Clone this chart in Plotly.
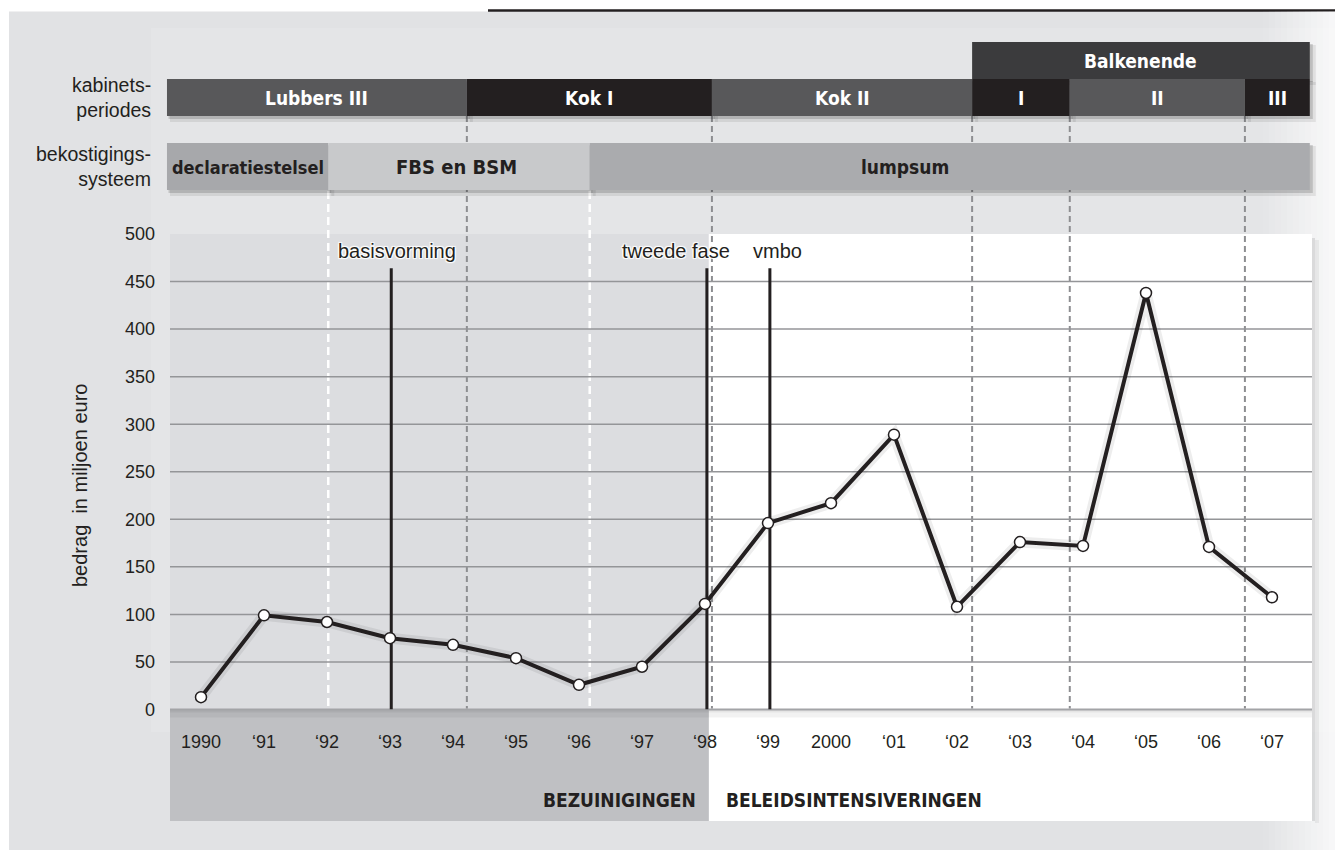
import plotly.graph_objects as go

# ---------------- data ----------------
years = list(range(1990, 2008))
values = [13, 99, 92, 75, 68, 54, 26, 45, 111, 196, 217, 289, 108, 176, 172, 438, 171, 118]
x_tick_labels = ["1990", "‘91", "‘92", "‘93", "‘94", "‘95", "‘96", "‘97", "‘98", "‘99",
                 "2000", "‘01", "‘02", "‘03", "‘04", "‘05", "‘06", "‘07"]
y_ticks = [0, 50, 100, 150, 200, 250, 300, 350, 400, 450, 500]
grid_vals = [50, 100, 150, 200, 250, 300, 350, 400, 450]

cabinet_names = ["Lubbers III", "Kok I", "Kok II", "I", "II", "III"]
cabinet_bounds = [1989.46, 1994.22, 1998.11, 2002.24, 2003.79, 2006.57, 2007.60]
group_name = "Balkenende"
group_bounds = [2002.24, 2007.60]

funding_names = ["declaratiestelsel", "FBS en BSM", "lumpsum"]
funding_bounds = [1989.46, 1992.02, 1996.17, 2007.60]
funding_label_x = [1990.74, 1994.05, 2001.17]

event_names = ["basisvorming", "tweede fase", "vmbo"]
event_x = [1993.02, 1998.03, 1999.03]
event_top = 464

phase_names = ["BEZUINIGINGEN", "BELEIDSINTENSIVERINGEN"]
phase_split = 1998.06

# ---------------- layout helpers ----------------
W, H = 1335, 850
PX_1990, PX_PER_YEAR = 201, 63


def px2yr(px):
    return 1990 + (px - PX_1990) / PX_PER_YEAR


def yp(py):
    return 1 - py / H


def xp(px):
    return px / W


INK = "#231f20"
MID = "#58585a"
BAR_FONT = "Liberation Sans Narrow, DejaVu Sans Condensed, Liberation Sans, Arial"
TXT_FONT = "Liberation Sans, Arial, Helvetica"

PLOT_L, PLOT_R, PLOT_T, PLOT_B = 170, 1312, 234, 709.5

shapes = []
annotations = []


def rect(x0, x1, y0, y1, color, xref="paper", opacity=1.0):
    shapes.append(dict(type="rect", xref=xref, yref="paper", x0=x0, x1=x1,
                       y0=yp(y1), y1=yp(y0), fillcolor=color, opacity=opacity,
                       line=dict(width=0), layer="below"))


# page background
rect(xp(9), 1, 11.5, H, "#e1e2e4")
shapes.append(dict(type="line", xref="paper", yref="paper", x0=xp(488), x1=1,
                   y0=yp(10.5), y1=yp(10.5), line=dict(color=INK, width=2.5), layer="below"))
rect(xp(151), 1, 28, 732, "#e4e5e7")
# right-edge fade
for i in range(12):
    x0 = 1263 + i * 6
    rect(xp(x0), xp(x0 + 6), 11.5, H, "white", opacity=0.06 * (i + 1))

# plot region halves
x_lo, x_hi = px2yr(PLOT_L), px2yr(PLOT_R)
rect(x_lo, phase_split, PLOT_T, PLOT_B, "#dcdde0", xref="x2")
rect(phase_split, x_hi, PLOT_T, 821, "#ffffff", xref="x2")
rect(x_lo, phase_split, PLOT_B, 821, "#bfc0c3", xref="x2")
# soft shadows of the panel
rect(x_hi, px2yr(PLOT_R + 3), PLOT_T + 4, 821, "rgba(0,0,0,0.10)", xref="x2")
rect(px2yr(PLOT_R + 3), px2yr(PLOT_R + 7), PLOT_T + 6, 823, "rgba(0,0,0,0.05)", xref="x2")
rect(x_lo, x_hi, PLOT_B, PLOT_B + 3, "rgba(0,0,0,0.10)", xref="x2")
rect(x_lo, x_hi, PLOT_B + 3, PLOT_B + 8, "rgba(0,0,0,0.05)", xref="x2")
shapes.append(dict(type="line", xref="x2", yref="paper", x0=x_lo, x1=x_hi,
                   y0=yp(PLOT_B), y1=yp(PLOT_B), line=dict(color="#a3a4a7", width=2), layer="below"))

# dashed cabinet boundaries
for b in cabinet_bounds[1:-1]:
    shapes.append(dict(type="line", xref="x2", yref="paper", x0=b, x1=b,
                       y0=yp(116), y1=yp(PLOT_B - 1), layer="below",
                       line=dict(color="#8d8e91", width=2, dash="6px,4px")))

# white dashed funding boundaries
for b in funding_bounds[1:-1]:
    shapes.append(dict(type="line", xref="x2", yref="paper", x0=b, x1=b,
                       y0=yp(191), y1=yp(PLOT_B - 1), layer="below",
                       line=dict(color="#ffffff", width=2.5, dash="8px,5px")))


def bar(x0, x1, y0, y1, color):
    dx = 3 / PX_PER_YEAR
    rect(x0 + dx, x1 + 2 * dx, y0 + 3, y1 + 6, "rgba(0,0,0,0.08)", xref="x2")
    rect(x0 + dx / 2, x1 + dx, y0 + 2, y1 + 3, "rgba(0,0,0,0.15)", xref="x2")
    rect(x0, x1, y0, y1, color, xref="x2")


# Balkenende header
bar(group_bounds[0], group_bounds[1], 42, 79, "#3b3b3d")
annotations.append(dict(x=(group_bounds[0] + group_bounds[1]) / 2, xref="x2", y=yp(61), yref="paper",
                        text=group_name, showarrow=False, xanchor="center", yanchor="middle",
                        font=dict(family=BAR_FONT, size=19, color="white", weight="bold")))

# cabinet bar
for i, name in enumerate(cabinet_names):
    x0, x1 = cabinet_bounds[i], cabinet_bounds[i + 1]
    bar(x0, x1, 79, 116, MID if i % 2 == 0 else INK)
for i, name in enumerate(cabinet_names):
    x0, x1 = cabinet_bounds[i], cabinet_bounds[i + 1]
    annotations.append(dict(x=(x0 + x1) / 2, xref="x2", y=yp(97.5), yref="paper", text=name,
                            showarrow=False, xanchor="center", yanchor="middle",
                            font=dict(family=BAR_FONT, size=19, color="white", weight="bold")))

# funding bar
funding_colors = ["#a7a8ab", "#c8c9cb", "#aaabae"]
for i, name in enumerate(funding_names):
    bar(funding_bounds[i], funding_bounds[i + 1], 143, 190, funding_colors[i])
funding_sizes = [18, 20, 19]
for i, name in enumerate(funding_names):
    annotations.append(dict(x=funding_label_x[i], xref="x2", y=yp(167), yref="paper", text=name,
                            showarrow=False, xanchor="center", yanchor="middle",
                            font=dict(family=BAR_FONT, size=funding_sizes[i], color=INK, weight="bold")))

# row labels
annotations.append(dict(x=xp(153), xref="paper", y=yp(98), yref="paper",
                        text="kabinets-<br>periodes", showarrow=False, xanchor="right",
                        yanchor="middle", align="right",
                        font=dict(family=TXT_FONT, size=19.5, color=INK)))
annotations.append(dict(x=xp(153), xref="paper", y=yp(166), yref="paper",
                        text="bekostigings-<br>systeem", showarrow=False, xanchor="right",
                        yanchor="middle", align="right",
                        font=dict(family=TXT_FONT, size=19.5, color=INK)))

# y-axis title
annotations.append(dict(x=xp(80), xref="paper", y=yp(486), yref="paper",
                        text="bedrag  in miljoen euro", showarrow=False, textangle=-90,
                        xanchor="center", yanchor="middle",
                        font=dict(family=TXT_FONT, size=20, color=INK)))

# gridlines
for g in grid_vals:
    shapes.append(dict(type="line", xref="x domain", yref="y", x0=0, x1=1, y0=g, y1=g,
                       line=dict(color="#949598", width=1.5), layer="below"))

# event lines and labels
event_shift = [6, -31, 8]
for name, ex, sh in zip(event_names, event_x, event_shift):
    shapes.append(dict(type="line", xref="x", yref="y", x0=ex, x1=ex, y0=0, y1=event_top,
                       line=dict(color=INK, width=3), layer="below"))
    annotations.append(dict(x=ex, xref="x", y=yp(251), yref="paper", text=name,
                            showarrow=False, xanchor="center", yanchor="middle", xshift=sh,
                            font=dict(family=TXT_FONT, size=20, color=INK,
                                      shadow="1px 1px 1px white, -1px -1px 1px white, "
                                             "1px -1px 1px white, -1px 1px 1px white")))

# phase labels
annotations.append(dict(x=phase_split, xref="x2", y=yp(800), yref="paper", text=phase_names[0],
                        showarrow=False, xanchor="right", yanchor="middle", xshift=-11,
                        font=dict(family=BAR_FONT, size=19, color=INK, weight="bold")))
annotations.append(dict(x=phase_split, xref="x2", y=yp(800), yref="paper", text=phase_names[1],
                        showarrow=False, xanchor="left", yanchor="middle", xshift=15,
                        font=dict(family=BAR_FONT, size=19, color=INK, weight="bold")))

# ---------------- traces ----------------
fig = go.Figure()
fig.add_trace(go.Scatter(x=years, y=values, mode="lines", hoverinfo="skip",
                         line=dict(color="rgba(0,0,0,0.07)", width=11), showlegend=False))
fig.add_trace(go.Scatter(x=years, y=values, mode="lines+markers",
                         line=dict(color=INK, width=4),
                         marker=dict(size=11, color="white", line=dict(color=INK, width=1.5)),
                         showlegend=False))

fig.update_layout(
    width=W, height=H, margin=dict(l=0, r=0, t=0, b=0, pad=0, autoexpand=False),
    paper_bgcolor="white", plot_bgcolor="rgba(0,0,0,0)",
    shapes=shapes, annotations=annotations,
    xaxis=dict(domain=[xp(PLOT_L), xp(PLOT_R)], range=[x_lo, x_hi], automargin=False,
               tickvals=years, ticktext=x_tick_labels, ticks="", showgrid=False,
               zeroline=False, showline=False, ticklabelstandoff=19,
               tickfont=dict(family=TXT_FONT, size=18, color=INK)),
    yaxis=dict(domain=[yp(PLOT_B), yp(PLOT_T)], range=[0, 500], automargin=False,
               tickvals=y_ticks, ticks="", showgrid=False, zeroline=False, showline=False,
               ticklabelstandoff=14,
               tickfont=dict(family=TXT_FONT, size=18, color=INK)),
    xaxis2=dict(domain=[0, 1], range=[px2yr(0), px2yr(W)], visible=False, anchor="y",
                automargin=False),
)

fig.write_html("out.html", config={"displayModeBar": False},
               post_script="document.body.style.margin='0';document.documentElement.style.overflow='hidden';")
